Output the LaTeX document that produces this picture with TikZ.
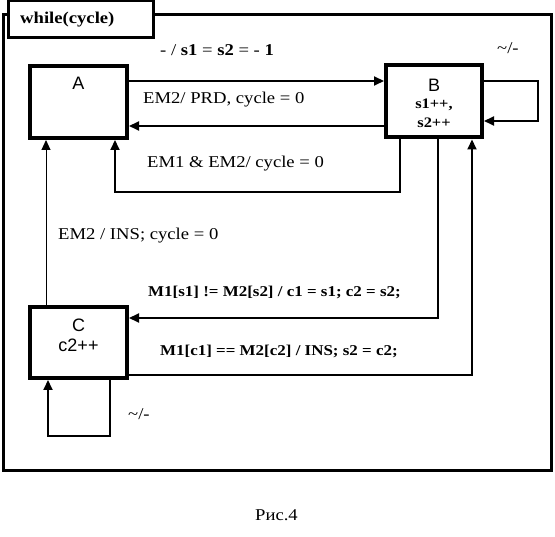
\documentclass[tikz,border=0pt]{standalone}
\usepackage{fontspec}
\setmainfont{Liberation Serif}
\newfontfamily\arialf{Liberation Sans}
\newfontfamily\labfont[FakeStretch=1.13]{Liberation Serif}
\newfontfamily\blabfont[FakeStretch=1.13]{Liberation Serif}
\usetikzlibrary{arrows.meta}
\tikzset{
  statebox/.style={draw,line width=4pt,minimum width=97pt,minimum height=72pt,inner sep=0pt},
  conn/.style={line width=2pt,-{Triangle[length=10pt,width=9pt]}},
  thinconn/.style={line width=1pt,-{Triangle[length=10pt,width=9pt]}},
  lab/.style={font=\labfont\fontsize{16.5}{19}\selectfont,inner sep=0pt,anchor=west},
  blab/.style={font=\blabfont\fontsize{15}{18}\selectfont\bfseries,inner sep=0pt,anchor=west},
  boxtxt/.style={font=\arialf\fontsize{18}{20}\selectfont,inner sep=0pt},
  btxt/.style={font=\blabfont\fontsize{14.5}{16}\selectfont\bfseries,inner sep=0pt},
}
\begin{document}
\begin{tikzpicture}[x=1pt,y=1pt]
\useasboundingbox (0,0) rectangle (555,-537);
% outer frame
\draw[line width=3pt] (3,-15) rectangle (551,-471);
\node[draw,line width=3pt,fill=white,minimum width=145pt,minimum height=37pt,inner sep=0pt] (title) at (80.5,-19.5) {};
\node[font=\blabfont\fontsize{16.5}{19}\selectfont\bfseries,inner sep=0pt,anchor=west] (titletxt) at (20,-20) {while(cycle)};
% states
\node[statebox] (A) at (78.5,-102) {};
\node[boxtxt] (Atxt) at (78.5,-83) {A};
\node[statebox,minimum width=96pt] (B) at (434,-101.5) {};
\node[boxtxt] (Btxt) at (434,-85) {B};
\node[btxt] (Bt2) at (434,-105) {s1++,};
\node[btxt] (Bt3) at (434,-123) {s2++};
\node[statebox,minimum height=71pt] (C) at (78.5,-342.5) {};
\node[boxtxt] (Ctxt) at (78.5,-325) {C};
\node[boxtxt] (Ct2) at (78.5,-345) {c2++};
% connectors
\draw[conn] (A.east |- 0,-81) -- (B.west |- 0,-81);
\draw[conn] (B.west |- 0,-126) -- (A.east |- 0,-126);
\draw[conn] (B.east |- 0,-81) -| (538,-121) -- (B.east |- 0,-121);
\draw[conn] (B.south -| 400,0) |- (115,-192) -- (A.south -| 115,0);
\draw[thinconn] (C.north -| 46,0) -- (A.south -| 46,0);
\draw[conn] (B.south -| 438,0) |- (C.east |- 0,-318);
\draw[conn] (C.east |- 0,-375) -| (B.south -| 472,0);
\draw[conn] (C.south -| 110,0) |- (48,-436) -- (C.south -| 48,0);
% labels
\node[lab] (l1) at (160,-50) {- / \textbf{s1} = \textbf{s2} = - \textbf{1}};
\node[lab] (l2) at (497,-48) {\textasciitilde/-};
\node[lab] (l3) at (143,-100) {EM2/ PRD, cycle = 0};
\node[lab] (l4) at (147,-164) {EM1 \& EM2/ cycle = 0};
\node[lab] (l5) at (58,-236) {EM2 / INS; cycle = 0};
\node[blab] (l6) at (148,-292) {M1[s1] != M2[s2] / c1 = s1; c2 = s2;};
\node[blab] (l7) at (160,-351) {M1[c1] == M2[c2] / INS; s2 = c2;};
\node[lab] (l8) at (128,-414) {\textasciitilde/-};
\node[lab] (cap) at (255,-515) {Рис.4};
\end{tikzpicture}
\end{document}
